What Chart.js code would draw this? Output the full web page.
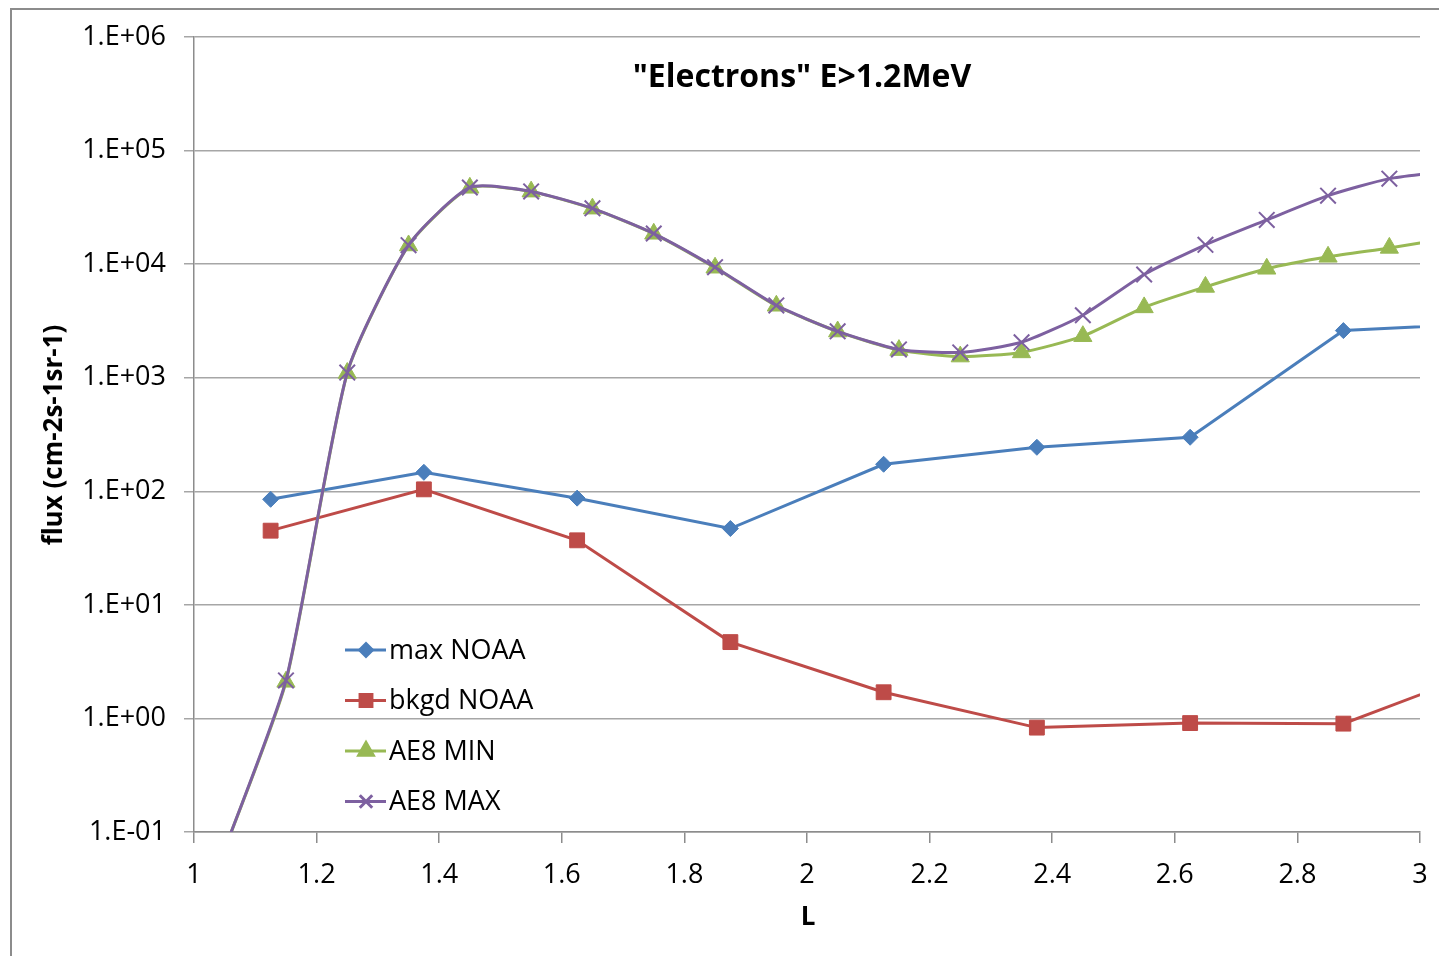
<!DOCTYPE html>
<html>
<head>
<meta charset="utf-8">
<script src="https://cdn.jsdelivr.net/npm/chart.js@4.4.0/dist/chart.umd.min.js"></script>
<style>
    html, body { margin: 0; padding: 0; background: #fff; overflow: hidden; }
    #frame { position: absolute; left: 10px; top: 8px; width: 1500px; height: 1000px;
             border-left: 2px solid #8c8c8c; border-top: 2px solid #8c8c8c; }
    #wrap { position: absolute; left: 0; top: 0; width: 1439px; height: 956px; }
</style>
</head>
<body>
<div id="frame"></div>
<div id="wrap"><canvas id="fluxChart"></canvas></div>
<script>
// L shells of the NOAA samples and of the AE8 model grid
const lNoaa = [1.125, 1.375, 1.625, 1.875, 2.125, 2.375, 2.625, 2.875, 3.125];
const lAe8 = [1.05, 1.15, 1.25, 1.35, 1.45, 1.55, 1.65, 1.75, 1.85, 1.95, 2.05,
              2.15, 2.25, 2.35, 2.45, 2.55, 2.65, 2.75, 2.85, 2.95, 3.05];

// integral flux, electrons E > 1.2 MeV
const maxNoaa = [85, 147, 87, 47, 173, 244, 299, 2600, 3050];
const bkgdNoaa = [45, 104, 37, 4.7, 1.7, 0.83, 0.91, 0.90, 2.9];
const ae8Min = [0.07, 2.1, 1100, 14600, 47000, 43500, 30800, 18500, 9300, 4300, 2550,
                1750, 1535, 1670, 2320, 4160, 6300, 9100, 11600, 13900, 17000];
const ae8Max = [0.07, 2.16, 1110, 14700, 47300, 43700, 31000, 18600, 9400, 4330, 2560,
                1775, 1670, 2050, 3550, 8100, 14800, 24500, 40100, 56600, 66000];

const yTicks = [0.1, 1, 10, 100, 1000, 10000, 100000, 1000000];
const yTickLabels = ["1.E-01", "1.E+00", "1.E+01", "1.E+02", "1.E+03", "1.E+04", "1.E+05", "1.E+06"];

const FONT = '"Open Sans", "Liberation Sans", sans-serif';

function pairs(xs, ys) {
    return xs.map((x, i) => ({ x: x, y: ys[i] }));
}

const series = [
    { label: "max NOAA", data: pairs(lNoaa, maxNoaa), color: "#4a7ebb", style: "rectRot", radius: 8, pbw: 1, tension: 0, order: 3 },
    { label: "bkgd NOAA", data: pairs(lNoaa, bkgdNoaa), color: "#be4b48", style: "rect", radius: 10.5, pbw: 1, tension: 0, order: 2 },
    { label: "AE8 MIN", data: pairs(lAe8, ae8Min), color: "#98b954", style: "triangle", radius: 10.5, pbw: 1, tension: 0.2, order: 1 },
    { label: "AE8 MAX", data: pairs(lAe8, ae8Max), color: "#7d60a0", style: "crossRot", radius: 11, pbw: 2, tension: 0.2, order: 0 }
];

// title, axis titles and the in-plot legend
const decorations = {
    id: "decorations",
    afterDraw(chart) {
        const ctx = chart.ctx;
        ctx.save();
        ctx.fillStyle = "#000";
        ctx.textAlign = "center";
        ctx.textBaseline = "middle";

        ctx.font = "bold 32px " + FONT;
        ctx.fillText('"Electrons" E>1.2MeV', 802, 78);

        ctx.font = "bold 26px " + FONT;
        ctx.fillText("L", 808, 918);

        ctx.save();
        ctx.translate(55, 435);
        ctx.rotate(-Math.PI / 2);
        ctx.font = "bold 26px " + FONT;
        ctx.fillText("flux (cm-2s-1sr-1)", 0, 0);
        ctx.restore();

        // legend
        ctx.textAlign = "left";
        ctx.font = "27px " + FONT;
        series.forEach((s, i) => {
            const y = 650 + i * 50.5;
            ctx.strokeStyle = s.color;
            ctx.lineWidth = 3;
            ctx.beginPath();
            ctx.moveTo(345, y);
            ctx.lineTo(386, y);
            ctx.stroke();
            ctx.fillStyle = s.color;
            Chart.helpers.drawPoint(ctx, {
                pointStyle: s.style,
                radius: s.radius * 0.8,
                rotation: 0,
                borderWidth: s.pbw
            }, 366, y);
            ctx.fillStyle = "#000";
            ctx.fillText(s.label, 389, y + 1);
        });
        ctx.restore();
    }
};

new Chart(document.getElementById("fluxChart"), {
    type: "line",
    data: {
        datasets: series.map(s => ({
            label: s.label,
            data: s.data,
            borderColor: s.color,
            backgroundColor: s.color,
            borderWidth: 3,
            pointStyle: s.style,
            pointRadius: s.radius,
            pointBorderWidth: s.pbw,
            pointBorderColor: s.color,
            pointBackgroundColor: s.color,
            tension: s.tension,
            order: s.order,
            clip: 0
        }))
    },
    options: {
        responsive: true,
        maintainAspectRatio: false,
        animation: false,
        events: [],
        layout: { padding: { left: 0, right: 19, top: 37, bottom: 0 } },
        plugins: {
            legend: { display: false },
            tooltip: { enabled: false }
        },
        scales: {
            x: {
                type: "linear",
                min: 1,
                max: 3,
                afterFit(scale) {
                    scale.height = 124;
                    scale.paddingLeft = 0;
                    scale.paddingRight = 0;
                },
                ticks: {
                    stepSize: 0.2,
                    color: "#000",
                    font: { family: FONT, size: 27 },
                    padding: 16,
                    maxRotation: 0,
                    callback: v => String(Math.round(v * 10) / 10)
                },
                grid: { drawOnChartArea: false, drawTicks: true, tickLength: 11, color: "#8c8c8c", lineWidth: 1.5 },
                border: { color: "#8c8c8c", width: 1.5 }
            },
            y: {
                type: "logarithmic",
                min: 0.1,
                max: 1000000,
                afterFit(scale) { scale.width = 194; },
                afterBuildTicks(scale) {
                    scale.ticks = yTicks.map(v => ({ value: v, major: true }));
                },
                ticks: {
                    color: "#000",
                    font: { family: FONT, size: 27 },
                    padding: 18,
                    callback: (v) => yTickLabels[yTicks.indexOf(v)] || ""
                },
                grid: { color: "#a6a6a6", lineWidth: 1.5, drawTicks: true, tickLength: 10 },
                border: { color: "#8c8c8c", width: 1.5 }
            }
        }
    },
    plugins: [decorations]
});
</script>
</body>
</html>
